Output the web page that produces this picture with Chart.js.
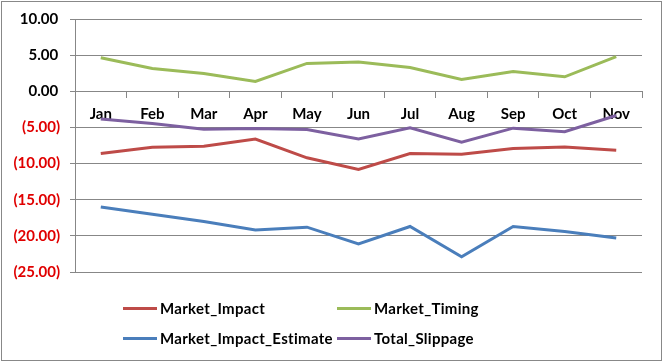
<!DOCTYPE html>
<html>
<head>
<meta charset="utf-8">
<script src="https://cdn.jsdelivr.net/npm/chart.js@4"></script>
<style>
  body { margin: 0; background: #fff; }
  #wrap { position: relative; width: 663px; height: 362px; }
  #legend { position: absolute; left: 123px; top: 298px; font: bold 15px Lato, sans-serif; color: #000;
            letter-spacing: 0.3px; display: grid; grid-template-columns: 214px auto; row-gap: 10px; }
  .item { display: flex; align-items: center; height: 20px; white-space: nowrap; }
  .swatch { width: 34px; height: 3px; margin-right: 3px; }
</style>
</head>
<body>
<div id="wrap">
  <canvas id="chart" width="663" height="362"></canvas>
  <div id="legend"></div>
</div>
<script>
const months = ['Jan', 'Feb', 'Mar', 'Apr', 'May', 'Jun', 'Jul', 'Aug', 'Sep', 'Oct', 'Nov'];
const marketImpact = [-8.6, -7.75, -7.6, -6.6, -9.2, -10.8, -8.6, -8.7, -7.9, -7.7, -8.15];
const marketTiming = [4.65, 3.15, 2.45, 1.35, 3.85, 4.05, 3.3, 1.65, 2.75, 2.0, 4.8];
const marketImpactEstimate = [-16.0, -17.0, -18.0, -19.2, -18.8, -21.1, -18.7, -22.9, -18.7, -19.4, -20.3];
const totalSlippage = [-3.85, -4.45, -5.25, -5.15, -5.3, -6.6, -5.05, -7.05, -5.1, -5.6, -3.35];

const gridColor = '#878787';

const series = [
    { label: 'Market_Impact', data: marketImpact, color: '#BE4B48' },
    { label: 'Market_Timing', data: marketTiming, color: '#9BBB59' },
    { label: 'Market_Impact_Estimate', data: marketImpactEstimate, color: '#4A7EBB' },
    { label: 'Total_Slippage', data: totalSlippage, color: '#7D60A0' }
];

// grey frame round the whole picture
const framePlugin = {
    id: 'frame',
    beforeDraw(chart) {
        const ctx = chart.ctx;
        ctx.save();
        ctx.fillStyle = '#fff';
        ctx.fillRect(0, 0, chart.width, chart.height);
        ctx.strokeStyle = '#888';
        ctx.lineWidth = 1;
        ctx.strokeRect(1.5, 1.5, chart.width - 3, chart.height - 3);
        ctx.restore();
    }
};

const fmt = v => v < 0 ? '(' + Math.abs(v).toFixed(2) + ')' : v.toFixed(2) + '\u2009';

const chart = new Chart(document.getElementById('chart'), {
    type: 'line',
    data: {
        labels: months,
        datasets: series.map(s => ({
            label: s.label,
            data: s.data,
            borderColor: s.color,
            backgroundColor: s.color,
            borderWidth: 3,
            pointRadius: 0,
            tension: 0,
            fill: false
        }))
    },
    options: {
        responsive: false,
        animation: false,
        layout: { padding: { left: 0, right: 21, top: 19, bottom: 90 } },
        plugins: { legend: { display: false }, tooltip: { enabled: false } },
        scales: {
            x: {
                position: { y: 0 },
                offset: true,
                grid: { drawOnChartArea: false, drawTicks: true, tickLength: 6, offset: true, color: gridColor },
                border: { color: gridColor },
                ticks: { color: '#000', font: { family: 'Lato', size: 15, weight: 'bold' }, padding: 8, maxRotation: 0 }
            },
            y: {
                min: -25,
                max: 10,
                afterFit: scale => { scale.width = 75; },
                grid: { color: gridColor, tickLength: 5 },
                border: { color: gridColor },
                ticks: {
                    stepSize: 5,
                    padding: 10,
                    callback: v => fmt(v),
                    color: ctx => ctx.tick.value < 0 ? '#E00000' : '#000',
                    font: { family: 'Lato', size: 15, weight: 'bold' }
                }
            }
        }
    },
    plugins: [framePlugin]
});

const legend = document.getElementById('legend');
chart.data.datasets.forEach(ds => {
    const item = document.createElement('div');
    item.className = 'item';
    const sw = document.createElement('span');
    sw.className = 'swatch';
    sw.style.background = ds.borderColor;
    const txt = document.createElement('span');
    txt.textContent = ds.label;
    item.appendChild(sw);
    item.appendChild(txt);
    legend.appendChild(item);
});
</script>
</body>
</html>
